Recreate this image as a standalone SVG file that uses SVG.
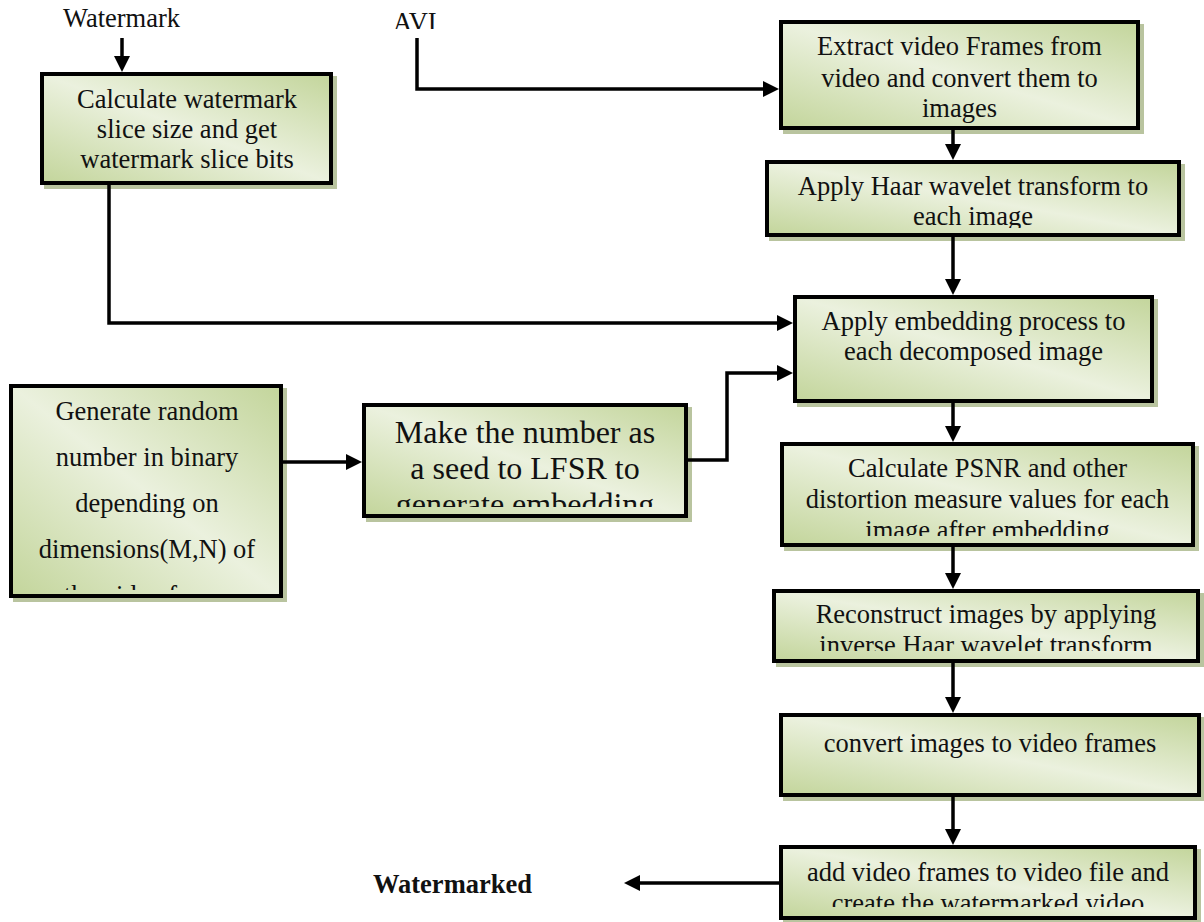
<svg xmlns="http://www.w3.org/2000/svg" width="1204" height="922" viewBox="0 0 1204 922">
<style>
  .box{fill:url(#g);stroke:#000;stroke-width:4}
  .sh{fill:#b9c49f}
  text{font-family:"Liberation Serif","Times New Roman",serif;font-size:26.5px;fill:#111;text-anchor:middle}
  .big{font-size:32px}
  .lbl{text-anchor:start}
  .b{font-weight:bold}
  .c{fill:none;stroke:#000;stroke-width:3.5;marker-end:url(#ah)}
</style>
<defs>
  <linearGradient id="g" x1="1" y1="0" x2="0" y2="1">
    <stop offset="0" stop-color="#c3d59b"/>
    <stop offset="0.5" stop-color="#ebf1de"/>
    <stop offset="1" stop-color="#c3d59b"/>
  </linearGradient>
  <marker id="ah" markerUnits="userSpaceOnUse" markerWidth="16" markerHeight="16" refX="8" refY="8" orient="auto">
    <path d="M0,0 L16,8 L0,16 z" fill="#000"/>
  </marker>
  <clipPath id="k2"><rect x="9" y="384" width="274" height="206"/></clipPath>
  <clipPath id="k3"><rect x="362" y="403" width="326" height="104"/></clipPath>
  <clipPath id="k5"><rect x="765" y="160" width="416" height="68"/></clipPath>
  <clipPath id="k7"><rect x="780" y="442" width="415" height="94"/></clipPath>
  <clipPath id="k8"><rect x="772" y="589" width="428" height="62"/></clipPath>
  <clipPath id="k10"><rect x="779" y="845" width="418" height="62"/></clipPath>
  <clipPath id="kavi"><rect x="380" y="0" width="100" height="29"/></clipPath>
</defs>

<g id="labels">
  <text class="lbl" x="63" y="27">Watermark</text>
  <text class="lbl" x="393" y="31" clip-path="url(#kavi)">AVI</text>
  <text class="lbl b" x="373" y="893">Watermarked</text>
</g>

<g id="n1">
  <rect class="sh" x="44" y="76" width="293" height="113"/>
  <rect class="box" x="42" y="74" width="289" height="109"/>
  <text x="187" y="108">Calculate watermark</text>
  <text x="187" y="138">slice size and get</text>
  <text x="187" y="168">watermark slice bits</text>
</g>

<g id="n2">
  <rect class="sh" x="13" y="388" width="274" height="214"/>
  <rect class="box" x="11" y="386" width="270" height="210"/>
  <g clip-path="url(#k2)">
    <text x="147" y="420">Generate random</text>
    <text x="147" y="466">number in binary</text>
    <text x="147" y="512">depending on</text>
    <text x="147" y="558">dimensions(M,N) of</text>
    <text x="147" y="604">the video frame</text>
  </g>
</g>

<g id="n3">
  <rect class="sh" x="366" y="407" width="326" height="115"/>
  <rect class="box" x="364" y="405" width="322" height="111"/>
  <g clip-path="url(#k3)">
    <text class="big" x="525" y="443">Make the number as</text>
    <text class="big" x="525" y="479">a seed to LFSR to</text>
    <text class="big" x="525" y="515">generate embedding</text>
  </g>
</g>

<g id="n4">
  <rect class="sh" x="783" y="24" width="361" height="110"/>
  <rect class="box" x="781" y="22" width="357" height="106"/>
  <text x="959.5" y="55">Extract video Frames from</text>
  <text x="959.5" y="87">video and convert them to</text>
  <text x="959.5" y="117">images</text>
</g>

<g id="n5">
  <rect class="sh" x="769" y="164" width="416" height="77"/>
  <rect class="box" x="767" y="162" width="412" height="73"/>
  <g clip-path="url(#k5)">
    <text x="973" y="195">Apply Haar wavelet transform to</text>
    <text x="973" y="225">each image</text>
  </g>
</g>

<g id="n6">
  <rect class="sh" x="797" y="299" width="361" height="108"/>
  <rect class="box" x="795" y="297" width="357" height="104"/>
  <text x="973.5" y="330">Apply embedding process to</text>
  <text x="973.5" y="360">each decomposed image</text>
</g>

<g id="n7">
  <rect class="sh" x="784" y="446" width="415" height="105"/>
  <rect class="box" x="782" y="444" width="411" height="101"/>
  <g clip-path="url(#k7)">
    <text x="987.5" y="477">Calculate PSNR and other</text>
    <text x="987.5" y="508">distortion measure values for each</text>
    <text x="987.5" y="539">image after embedding</text>
  </g>
</g>

<g id="n8">
  <rect class="sh" x="776" y="593" width="428" height="74"/>
  <rect class="box" x="774" y="591" width="424" height="70"/>
  <g clip-path="url(#k8)">
    <text x="986" y="623">Reconstruct images by applying</text>
    <text x="986" y="654">inverse Haar wavelet transform</text>
  </g>
</g>

<g id="n9">
  <rect class="sh" x="783" y="717" width="422" height="84"/>
  <rect class="box" x="781" y="715" width="418" height="80"/>
  <text x="990" y="752">convert images to video frames</text>
</g>

<g id="n10">
  <rect class="sh" x="783" y="849" width="418" height="75"/>
  <rect class="box" x="781" y="847" width="414" height="71"/>
  <g clip-path="url(#k10)">
    <text x="988" y="881">add video frames to video file and</text>
    <text x="988" y="912">create the watermarked video</text>
  </g>
</g>

<g id="connectors">
  <path class="c" d="M122,38 V64"/>
  <path class="c" d="M417,38 V89 H771"/>
  <path class="c" d="M953,130 V152"/>
  <path class="c" d="M953,237 V287"/>
  <path class="c" d="M109,185 V323 H785"/>
  <path class="c" d="M283,462 H354"/>
  <path class="c" d="M688,460 H727 V373 H785"/>
  <path class="c" d="M953,403 V434"/>
  <path class="c" d="M953,547 V581"/>
  <path class="c" d="M953,663 V705"/>
  <path class="c" d="M953,797 V837"/>
  <path class="c" d="M779,883 H632"/>
</g>
</svg>
